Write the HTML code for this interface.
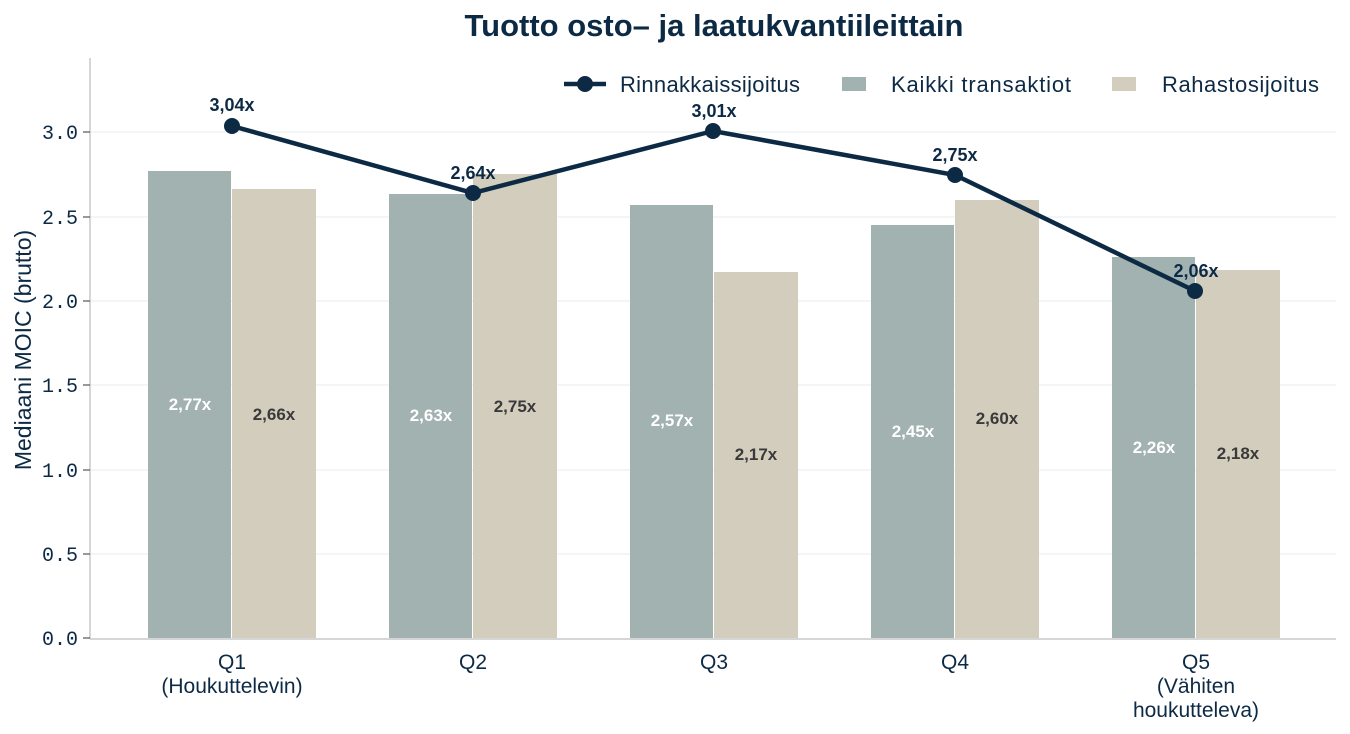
<!DOCTYPE html>
<html><head><meta charset="utf-8"><style>
body{margin:0;background:#fff;}
svg{display:block;font-family:"Liberation Sans",sans-serif;}
</style></head><body>
<svg width="1350" height="734" xmlns="http://www.w3.org/2000/svg">
<text x="714" y="36" text-anchor="middle" font-size="31" font-weight="bold" fill="#0d2a45">Tuotto osto– ja laatukvantiileittain</text>
<g stroke="#e6eeee" stroke-width="1">
<line x1="90" x2="1336" y1="132" y2="132"/><line x1="90" x2="1336" y1="217" y2="217"/>
<line x1="90" x2="1336" y1="301" y2="301"/><line x1="90" x2="1336" y1="385" y2="385"/>
<line x1="90" x2="1336" y1="470" y2="470"/><line x1="90" x2="1336" y1="554" y2="554"/>
</g>
<line x1="90" x2="90" y1="58" y2="639" stroke="#c8c8c8" stroke-width="1.5"/>
<line x1="90" x2="1336" y1="639" y2="639" stroke="#c8c8c8" stroke-width="1.5"/>
<g stroke="#555" stroke-width="1.2">
<line x1="83" x2="90" y1="132" y2="132"/><line x1="83" x2="90" y1="217" y2="217"/><line x1="83" x2="90" y1="301" y2="301"/>
<line x1="83" x2="90" y1="385" y2="385"/><line x1="83" x2="90" y1="470" y2="470"/><line x1="83" x2="90" y1="554" y2="554"/><line x1="83" x2="90" y1="638" y2="638"/>
</g>
<g font-family="Liberation Mono,monospace" font-size="20" fill="#0d2a45" text-anchor="end">
<text x="78" y="139">3.0</text><text x="78" y="224">2.5</text><text x="78" y="308">2.0</text>
<text x="78" y="392">1.5</text><text x="78" y="477">1.0</text><text x="78" y="561">0.5</text><text x="78" y="645">0.0</text>
</g>
<text transform="translate(31,350) rotate(-90)" text-anchor="middle" font-size="23" fill="#0d2a45">Mediaani MOIC (brutto)</text>
<g fill="#a1b2b0">
<rect x="148" y="171" width="83" height="467"/><rect x="389" y="194" width="83" height="444"/>
<rect x="630" y="205" width="83" height="433"/><rect x="871" y="225" width="83" height="413"/>
<rect x="1112" y="257" width="83" height="381"/>
</g>
<g fill="#d3cdbd">
<rect x="232" y="189" width="84" height="449"/><rect x="473" y="174" width="84" height="464"/>
<rect x="714" y="272" width="84" height="366"/><rect x="955" y="200" width="84" height="438"/>
<rect x="1196" y="270" width="84" height="368"/>
</g>
<g font-size="17" font-weight="bold" text-anchor="middle">
<g fill="#fff"><text x="190" y="410">2,77x</text><text x="431" y="421">2,63x</text><text x="672" y="426">2,57x</text><text x="913" y="437">2,45x</text><text x="1154" y="453">2,26x</text></g>
<g fill="#3a3a3a"><text x="274" y="420">2,66x</text><text x="515" y="412">2,75x</text><text x="756" y="460">2,17x</text><text x="997" y="424">2,60x</text><text x="1238" y="459">2,18x</text></g>
</g>
<polyline points="232,126 473,193 713,131 955,175 1195,291" fill="none" stroke="#0d2a45" stroke-width="4.5"/>
<g fill="#0d2a45"><circle cx="232" cy="126" r="8"/><circle cx="473" cy="193" r="8"/><circle cx="713" cy="131" r="8"/><circle cx="955" cy="175" r="8"/><circle cx="1195" cy="291" r="8"/></g>
<g font-size="18" font-weight="bold" fill="#0d2a45" text-anchor="middle">
<text x="232" y="111">3,04x</text><text x="473" y="179">2,64x</text><text x="714" y="117">3,01x</text><text x="955" y="161">2,75x</text><text x="1196" y="277">2,06x</text>
</g>
<line x1="564" x2="606" y1="84" y2="84" stroke="#0d2a45" stroke-width="4.5"/><circle cx="585" cy="84" r="8" fill="#0d2a45"/>
<text x="620" y="92" font-size="22" fill="#0d2a45" textLength="180">Rinnakkaissijoitus</text>
<rect x="842" y="77" width="24" height="14" fill="#a1b2b0"/><text x="891" y="92" font-size="22" fill="#0d2a45" textLength="180">Kaikki transaktiot</text>
<rect x="1112" y="77" width="24" height="14" fill="#d3cdbd"/><text x="1162" y="92" font-size="22" fill="#0d2a45" textLength="157">Rahastosijoitus</text>
<g font-size="21" fill="#0d2a45" text-anchor="middle">
<text x="232" y="669">Q1</text><text x="232" y="693">(Houkuttelevin)</text>
<text x="473" y="669">Q2</text><text x="714" y="669">Q3</text><text x="955" y="669">Q4</text>
<text x="1196" y="669">Q5</text><text x="1196" y="693">(Vähiten</text><text x="1196" y="717">houkutteleva)</text>
</g>
</svg>
</body></html>
